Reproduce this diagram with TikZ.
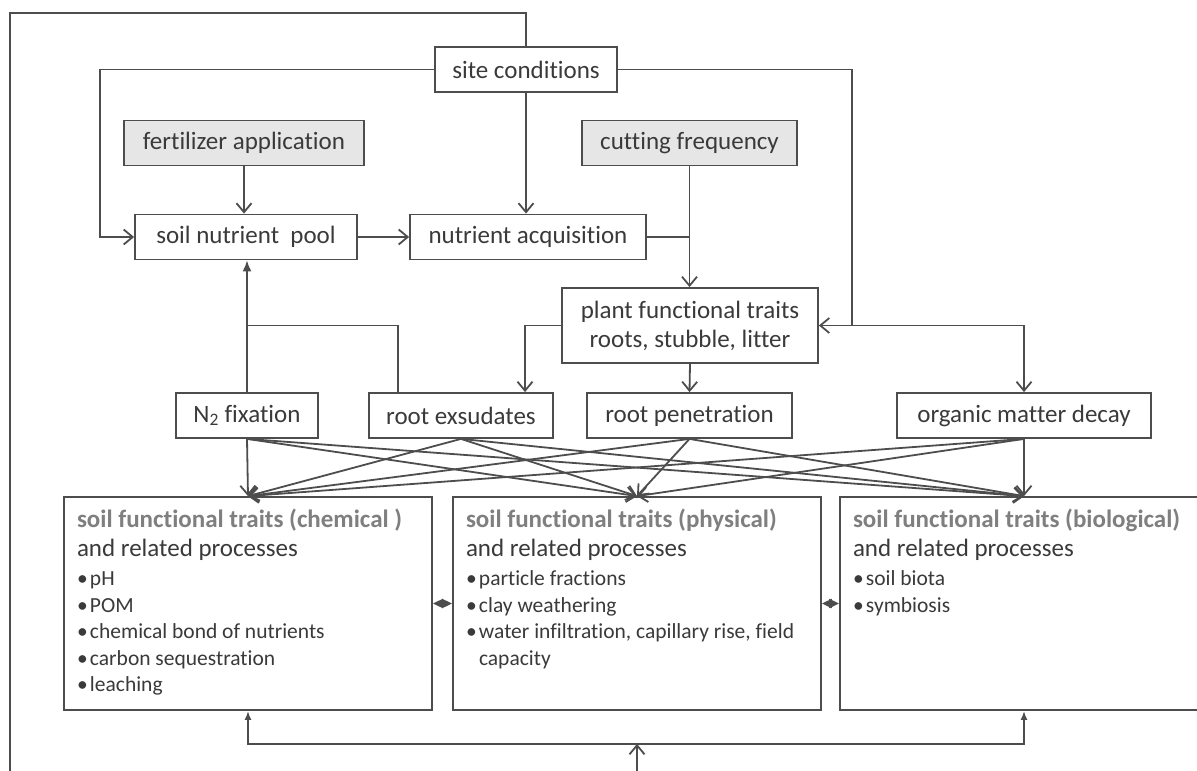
\documentclass[tikz,border=0pt]{standalone}
\usepackage{fontspec}
\setmainfont{Carlito}[Ligatures=NoCommon]
\usetikzlibrary{arrows.meta}

\definecolor{linegray}{HTML}{4D4D4D}
\definecolor{textgray}{HTML}{3A3A3A}
\definecolor{titlegray}{HTML}{7F7F7F}
\definecolor{mgmtfill}{HTML}{E6E6E6}

\newcommand{\soiltitle}[1]{{\fontsize{25}{29}\selectfont\bfseries\color{titlegray}#1\par}{\fontsize{25}{29}\selectfont and related processes\par}\vspace{3pt}}
\newcommand{\soilitem}[1]{{\fontsize{21.5}{26.5}\selectfont\makebox[13pt][l]{\textbullet}#1\par}}
\newcommand{\soilmore}[1]{{\fontsize{21.5}{26.5}\selectfont\hspace*{13pt}#1\par}}

\tikzstyle{procbox} = [draw=linegray, line width=1.8pt, fill=white, text=textgray, inner sep=0pt, minimum height=45pt, font=\fontsize{25}{29}\selectfont]
\tikzstyle{mgmtbox} = [procbox, fill=mgmtfill]
\tikzstyle{soilbox} = [draw=linegray, line width=1.8pt, fill=white, text=textgray, inner xsep=13pt, inner ysep=11.5pt]
\tikzstyle{conn} = [draw=linegray, line width=1.8pt]
\tikzstyle{openarr} = [conn, -{Straight Barb[length=9pt,width=15pt]}]
\tikzstyle{fillarr} = [conn, -{Latex[length=11pt,width=9pt]}]
\tikzstyle{backarr} = [conn, {Latex[length=9pt,width=7pt]}-{Latex[length=9pt,width=7pt]}]
\tikzstyle{diamondlink} = [conn, {Triangle[length=10pt,width=9pt]}-{Triangle[length=10pt,width=9pt]}]

\begin{document}
\begin{tikzpicture}[x=1pt,y=-1pt]
		\clip (0,0) rectangle (1197,771);

		\node[procbox, minimum width=182pt] (site) at (526,69.5) {site conditions};
		\node[mgmtbox, minimum width=240pt] (fert) at (244,143) {fertilizer application};
		\node[mgmtbox, minimum width=215pt] (cut) at (689.5,143) {cutting frequency};
		\node[procbox, minimum width=222pt] (pool) at (246,237) {soil nutrient\ \ pool};
		\node[procbox, minimum width=236pt] (acq) at (528,237) {nutrient acquisition};
		\node[procbox, minimum width=256pt, minimum height=75pt, align=center] (plant) at (690,325.5) {plant functional traits\\roots, stubble, litter};

		\node[procbox, minimum width=142pt] (n2) at (247,415.5) {N\textsubscript{2} fixation};
		\node[procbox, minimum width=184pt] (exud) at (461,415.5) {root exsudates};
		\node[procbox, minimum width=205pt] (pen) at (689.5,415.5) {root penetration};
		\node[procbox, minimum width=254pt] (decay) at (1024,415.5) {organic matter decay};

		\node[soilbox] (chem) at (248,603.5) {\parbox[c][190pt][t]{342pt}{\raggedright
			\soiltitle{soil functional traits (chemical )}
			\soilitem{pH}
			\soilitem{POM}
			\soilitem{chemical bond of nutrients}
			\soilitem{carbon sequestration}
			\soilitem{leaching}}};
		\node[soilbox] (phys) at (637,603.5) {\parbox[c][190pt][t]{342pt}{\raggedright
			\soiltitle{soil functional traits (physical)}
			\soilitem{particle fractions}
			\soilitem{clay weathering}
			\soilitem{water infiltration, capillary rise, field}
			\soilmore{capacity}}};
		\node[soilbox] (bio) at (1024,603.5) {\parbox[c][190pt][t]{342pt}{\raggedright
			\soiltitle{soil functional traits (biological)}
			\soilitem{soil biota}
			\soilitem{symbiosis}}};

		\coordinate (sitesplit) at ([xshift=33pt]plant.east);
		\coordinate (fbmid) at ([yshift=-33pt]phys.south);

		\draw[openarr] (site.west) -| ([xshift=-34pt]pool.west) -- (pool.west);
		\draw[conn] (site.east) -| (sitesplit);
		\draw[openarr] (sitesplit) -- (plant.east);
		\draw[openarr] (sitesplit) -| (decay.north);
		\draw[openarr] (site.south) -- (site.south |- acq.north);
		\draw[openarr] (fert.south) -- (fert.south |- pool.north);
		\draw[openarr] (pool.east) -- (acq.west);
		\draw[openarr] (cut.south) -- (cut.south |- plant.north);
		\draw[conn] (acq.east) -- (acq.east -| cut.south);
		\draw[openarr] (plant.west) -| ([xshift=64pt]exud.north);
		\draw[openarr] (plant.south) -- (pen.north);
		\draw[fillarr] (n2.north) -- (n2.north |- pool.south);
		\draw[conn] ([xshift=-63pt]exud.north) |- (n2.north |- plant.west);

		\foreach \src in {n2,exud,pen,decay}
			\foreach \tgt in {chem,phys,bio}
				\draw[openarr] (\src.south) -- (\tgt.north);

		\draw[diamondlink] (chem.east) -- (phys.west);
		\draw[diamondlink] (phys.east) -- (bio.west);

		\draw[backarr] (chem.south) |- (fbmid) -| (bio.south);
		\draw[openarr] (site.north) |- (10,13) -- (10,800) -| (fbmid);
\end{tikzpicture}
\end{document}
